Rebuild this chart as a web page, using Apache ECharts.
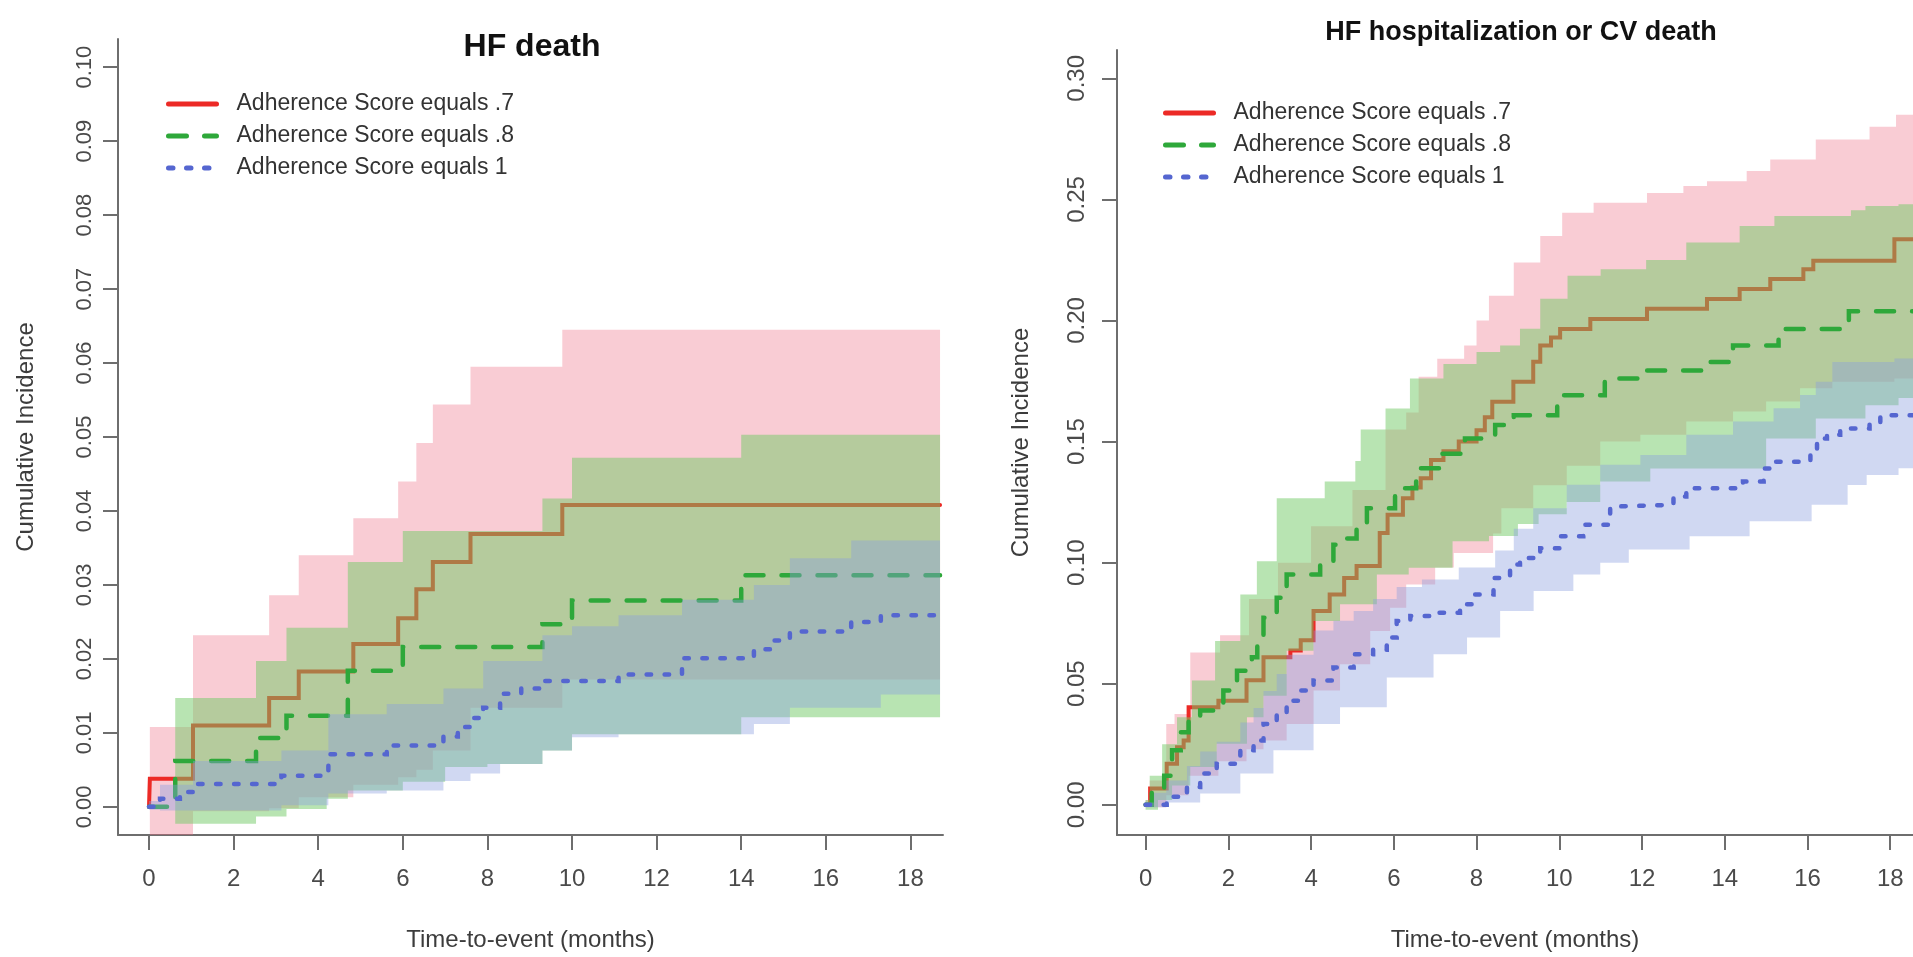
<!DOCTYPE html>
<html>
<head>
<meta charset="utf-8">
<title>Cumulative incidence by adherence score</title>
<script src="https://cdn.jsdelivr.net/npm/echarts@6/dist/echarts.min.js"></script>
<style>
  html, body { margin: 0; padding: 0; background: #ffffff; }
  #chart { width: 1913px; height: 957px; }
</style>
</head>
<body>
<div id="chart"></div>
<script>
// ---------------- DATA ----------------
const seriesNames = ['Adherence Score equals .7', 'Adherence Score equals .8', 'Adherence Score equals 1'];
const panelTitles = ['HF death', 'HF hospitalization or CV death'];
const xTicks = [0, 2, 4, 6, 8, 10, 12, 14, 16, 18];
const yTicksLeft = [0, 0.01, 0.02, 0.03, 0.04, 0.05, 0.06, 0.07, 0.08, 0.09, 0.10];
const yTicksRight = [0, 0.05, 0.10, 0.15, 0.20, 0.25, 0.30];
const endLeft = 18.7;
const endRight = 18.55;

// Left panel: HF death — step curves [month, cumulative incidence]
const hd07 = [[0,0],[0.02,0.0038],[1.04,0.011],[2.84,0.0147],[3.54,0.0183],[4.83,0.022],[5.89,0.0255],[6.32,0.0294],[6.71,0.0331],[7.6,0.0369],[9.77,0.0408]];
const hd07Up = [[0.02,0.0108],[1.04,0.0232],[2.84,0.0286],[3.54,0.034],[4.83,0.039],[5.89,0.044],[6.32,0.0492],[6.71,0.0544],[7.6,0.0595],[9.77,0.0645]];
const hd07Lo = [[0.02,-0.0038],[1.04,-0.0006],[2.84,-0.0002],[3.54,0.0013],[4.83,0.003],[5.89,0.004],[6.32,0.005],[6.71,0.0076],[7.6,0.0134],[9.77,0.0172]];

const hd08 = [[0,0],[0.62,0.0062],[2.53,0.0093],[3.25,0.0123],[4.7,0.0184],[6.0,0.0216],[9.3,0.0247],[10.0,0.0279],[14.0,0.0313]];
const hd08Up = [[0.62,0.0147],[2.53,0.0197],[3.25,0.0242],[4.7,0.0331],[6.0,0.0373],[9.3,0.0417],[10.0,0.0472],[14.0,0.0503]];
const hd08Lo = [[0.62,-0.0023],[2.53,-0.0013],[3.25,-0.0003],[4.2,0.0011],[4.7,0.0022],[6.0,0.0034],[7.0,0.0054],[8.0,0.0058],[9.3,0.0076],[10.0,0.0098],[14.0,0.0121]];

const hd10 = [[0,0],[0.26,0.0011],[0.73,0.002],[1.04,0.0031],[3.13,0.0042],[4.24,0.0071],[5.62,0.0083],[6.96,0.0095],[7.3,0.0108],[7.6,0.012],[7.9,0.0134],[8.3,0.0153],[8.8,0.016],[9.3,0.017],[11.1,0.0179],[12.6,0.0201],[14.3,0.0213],[14.7,0.0225],[15.15,0.0237],[16.6,0.025],[17.3,0.0259]];
const hd10Up = [[0,0.0008],[0.26,0.003],[1.04,0.0062],[3.13,0.0076],[4.24,0.0125],[5.62,0.0139],[6.96,0.016],[7.9,0.0197],[9.3,0.0232],[10.0,0.0244],[11.1,0.0259],[12.6,0.028],[14.3,0.03],[15.15,0.0336],[16.6,0.036]];
const hd10Lo = [[0,-0.0004],[0.26,-0.0005],[3.13,0.0002],[4.24,0.0018],[5.62,0.0022],[6.96,0.0035],[7.6,0.0045],[8.3,0.0058],[9.3,0.0076],[10.0,0.0094],[11.1,0.0098],[14.3,0.0112],[15.15,0.0134],[17.3,0.0152]];

// Right panel: HF hospitalization or CV death
const hc07 = [[0,0],[0.11,0.0067],[0.51,0.017],[0.76,0.0238],[0.92,0.0266],[1.04,0.0403],[1.76,0.043],[2.44,0.0514],[2.85,0.0609],[3.5,0.0637],[3.75,0.068],[4.06,0.08],[4.45,0.0869],[4.8,0.0937],[5.1,0.0986],[5.66,0.1122],[5.85,0.1198],[6.22,0.1266],[6.45,0.131],[6.65,0.1349],[6.9,0.1424],[7.2,0.146],[7.57,0.15],[8.0,0.1547],[8.2,0.16],[8.38,0.1664],[8.89,0.1747],[9.37,0.183],[9.54,0.1897],[9.8,0.193],[10.02,0.1965],[10.75,0.2006],[12.12,0.2048],[13.57,0.2089],[14.36,0.213],[15.1,0.2171],[15.9,0.2212],[16.14,0.2247],[18.1,0.2336]];
const hc07Up = [[0,0.002],[0.1,0.01],[0.5,0.0334],[0.7,0.0375],[1.08,0.0629],[1.8,0.07],[2.5,0.085],[3.2,0.1],[4.0,0.115],[5.0,0.13],[5.8,0.155],[6.3,0.162],[6.6,0.1768],[7.05,0.1842],[7.7,0.1897],[8.0,0.2],[8.3,0.2102],[8.9,0.224],[9.54,0.2349],[10.07,0.2445],[10.83,0.2486],[12.12,0.2527],[13.0,0.2555],[13.57,0.2575],[14.53,0.2617],[15.1,0.2665],[16.2,0.2747],[17.5,0.28],[18.14,0.285]];
const hc07Lo = [[0,-0.001],[0.5,0.004],[1.04,0.012],[1.76,0.018],[2.44,0.023],[2.85,0.0266],[3.41,0.0334],[4.06,0.0472],[4.7,0.0581],[5.43,0.0718],[5.91,0.0814],[6.3,0.091],[7.0,0.098],[7.45,0.104],[8.4,0.112],[8.6,0.1225],[9.37,0.132],[10.18,0.14],[10.99,0.15],[11.96,0.1528],[13.07,0.1583],[14.2,0.1624],[15.0,0.1665],[15.82,0.172],[16.6,0.1747],[18.1,0.176]];

const hc08 = [[0,0],[0.15,0.005],[0.45,0.012],[0.64,0.0225],[0.85,0.03],[1.04,0.0348],[1.32,0.039],[1.88,0.0472],[2.21,0.0554],[2.57,0.0609],[2.7,0.068],[2.85,0.0773],[3.17,0.0855],[3.41,0.0951],[4.22,0.1006],[4.54,0.1074],[4.8,0.11],[5.1,0.1157],[5.35,0.1225],[6.03,0.1307],[6.54,0.139],[7.1,0.145],[7.72,0.1513],[8.45,0.1568],[8.9,0.1609],[9.95,0.1691],[11.1,0.176],[12.1,0.1794],[13.6,0.1829],[14.2,0.1897],[15.3,0.1965],[17.0,0.2038]];
const hc08Up = [[0,0.002],[0.1,0.012],[0.4,0.025],[0.76,0.0362],[1.12,0.0513],[1.68,0.0677],[2.29,0.0869],[2.69,0.1006],[3.17,0.1266],[4.33,0.1335],[5.07,0.142],[5.2,0.155],[5.8,0.1637],[6.39,0.176],[7.2,0.182],[8.0,0.187],[8.57,0.1897],[9.05,0.1966],[9.54,0.209],[10.2,0.2185],[11.0,0.2212],[12.1,0.225],[13.07,0.2322],[14.36,0.239],[15.2,0.2432],[17.05,0.2455],[17.4,0.2473],[18.2,0.248]];
const hc08Lo = [[0,-0.002],[0.3,0.002],[0.64,0.008],[1.08,0.0156],[1.72,0.0252],[2.45,0.0362],[2.85,0.045],[3.41,0.0636],[4.06,0.0759],[4.7,0.0828],[5.59,0.0951],[6.36,0.0979],[7.42,0.1088],[8.3,0.111],[9.0,0.116],[9.5,0.12],[10.18,0.125],[10.99,0.1335],[12.2,0.1389],[15.0,0.1513],[16.2,0.1595],[17.4,0.165],[18.2,0.168]];

const hc10 = [[0,0],[0.51,0.0033],[1.0,0.0074],[1.32,0.0129],[1.72,0.017],[2.29,0.0225],[2.61,0.0266],[2.85,0.0334],[3.17,0.0375],[3.41,0.043],[3.74,0.0472],[4.06,0.0513],[4.54,0.0567],[5.03,0.0622],[5.5,0.064],[5.83,0.0691],[6.07,0.0759],[6.4,0.078],[6.96,0.0793],[7.6,0.0828],[7.93,0.0869],[8.41,0.0937],[8.81,0.0992],[9.05,0.1019],[9.54,0.106],[10.02,0.1109],[10.58,0.1157],[11.23,0.1232],[11.4,0.1239],[12.76,0.1273],[13.07,0.1307],[14.44,0.1335],[14.94,0.1389],[15.1,0.1417],[16.07,0.1458],[16.23,0.1513],[16.47,0.1528],[16.79,0.1554],[17.5,0.1575],[17.76,0.1609]];
const hc10Up = [[0,0.001],[0.2,0.005],[0.5,0.01],[1.0,0.016],[1.32,0.022],[1.72,0.026],[2.29,0.034],[2.61,0.04],[2.85,0.047],[3.17,0.054],[3.41,0.062],[4.06,0.072],[4.54,0.076],[5.03,0.08],[5.5,0.085],[6.07,0.09],[6.68,0.093],[7.57,0.098],[8.45,0.105],[8.9,0.114],[9.37,0.1225],[10.18,0.1322],[10.99,0.1404],[11.96,0.1445],[13.07,0.1528],[14.2,0.1583],[15.18,0.1638],[15.82,0.1692],[16.2,0.1747],[16.6,0.1829],[18.1,0.1843]];
const hc10Lo = [[0,-0.001],[0.5,0.001],[1.32,0.0047],[2.29,0.0129],[3.09,0.0225],[4.06,0.0334],[4.7,0.0403],[5.83,0.0526],[6.96,0.0622],[7.77,0.0691],[8.57,0.08],[9.38,0.0883],[10.34,0.0951],[10.99,0.1],[11.68,0.1054],[13.15,0.1109],[14.6,0.1171],[16.1,0.1239],[16.97,0.1321],[17.43,0.1362],[18.2,0.139]];

// ---------------- STYLE ----------------
const FONT = "'Liberation Sans', Arial, Helvetica, sans-serif";
const lineColors = ['#ec2a26', '#2ea83a', '#5566d0'];
const bandColors = ['rgba(238,109,132,0.35)', 'rgba(113,201,101,0.5)', 'rgba(137,157,222,0.4)'];
const lineTypes = ['solid', [18, 18], [4.5, 13.5]];
const lineWidths = [4, 4.5, 4.5];

function bandSeries(name, up, lo, tEnd, gridIdx, color, z) {
  return {
    type: 'custom',
    name: name + ' CI',
    xAxisIndex: gridIdx, yAxisIndex: gridIdx,
    clip: true, silent: true, z: z,
    data: [up[0]],
    renderItem: function (params, api) {
      if (params.dataIndex !== 0) return null;
      const pts = [];
      for (let i = 0; i < up.length; i++) {
        const tNext = i + 1 < up.length ? up[i + 1][0] : tEnd;
        pts.push(api.coord([up[i][0], up[i][1]]));
        pts.push(api.coord([tNext, up[i][1]]));
      }
      for (let i = lo.length - 1; i >= 0; i--) {
        const tNext = i + 1 < lo.length ? lo[i + 1][0] : tEnd;
        pts.push(api.coord([tNext, lo[i][1]]));
        pts.push(api.coord([lo[i][0], lo[i][1]]));
      }
      return { type: 'polygon', shape: { points: pts }, style: { fill: color, stroke: null } };
    }
  };
}

function stepSeries(name, pts, tEnd, gridIdx, k, z) {
  const data = pts.concat([[tEnd, pts[pts.length - 1][1]]]);
  return {
    type: 'line', name: name, step: 'end',
    xAxisIndex: gridIdx, yAxisIndex: gridIdx,
    data: data, symbol: 'none', showSymbol: false, z: z,
    lineStyle: { color: lineColors[k], width: lineWidths[k], type: lineTypes[k], cap: 'round', join: 'miter' },
    itemStyle: { color: lineColors[k] },
    emphasis: { disabled: true }
  };
}

const axisLineStyle = { color: '#6e6e6e', width: 2 };

function xAxisCfg(gridIdx, min, max, labelSize) {
  return {
    type: 'value', gridIndex: gridIdx, min: min, max: max,
    splitLine: { show: false },
    axisLine: { show: true, onZero: false, lineStyle: axisLineStyle },
    axisTick: { show: true, inside: false, length: 15, customValues: xTicks, lineStyle: axisLineStyle },
    axisLabel: { customValues: xTicks, fontSize: labelSize, color: '#4a4a4a', fontFamily: FONT, margin: 32 },
    name: 'Time-to-event (months)', nameLocation: 'middle', nameGap: 93,
    nameTextStyle: { fontSize: 24, color: '#3c3c3c', fontFamily: FONT }
  };
}

function yAxisCfg(gridIdx, min, max, ticks, labelSize, margin, nameGap) {
  return {
    type: 'value', gridIndex: gridIdx, min: min, max: max,
    splitLine: { show: false },
    axisLine: { show: true, onZero: false, lineStyle: axisLineStyle },
    axisTick: { show: true, inside: false, length: 15, customValues: ticks, lineStyle: axisLineStyle },
    axisLabel: { customValues: ticks, rotate: 90, fontSize: labelSize, color: '#4a4a4a', fontFamily: FONT, margin: margin,
                 formatter: function (v) { return v.toFixed(2); } },
    name: 'Cumulative Incidence', nameLocation: 'middle', nameGap: nameGap, nameRotate: 90,
    nameTextStyle: { fontSize: 24, color: '#3c3c3c', fontFamily: FONT }
  };
}

function legendCfg(left, top) {
  return {
    orient: 'vertical', left: left, top: top, padding: 0,
    itemWidth: 48, itemHeight: 14, itemGap: 6,
    selectedMode: false,
    data: seriesNames,
    itemStyle: { opacity: 0 },
    lineStyle: { width: 5 },
    textStyle: { fontSize: 23, color: '#333333', fontFamily: FONT, lineHeight: 26, padding: [0, 0, 0, 15] }
  };
}

const series = [
  bandSeries(seriesNames[0], hd07Up, hd07Lo, endLeft, 0, bandColors[0], 1),
  stepSeries(seriesNames[0], hd07, endLeft, 0, 0, 2),
  bandSeries(seriesNames[1], hd08Up, hd08Lo, endLeft, 0, bandColors[1], 3),
  stepSeries(seriesNames[1], hd08, endLeft, 0, 1, 4),
  bandSeries(seriesNames[2], hd10Up, hd10Lo, endLeft, 0, bandColors[2], 5),
  stepSeries(seriesNames[2], hd10, endLeft, 0, 2, 6),

  bandSeries(seriesNames[0], hc07Up, hc07Lo, endRight, 1, bandColors[0], 1),
  stepSeries(seriesNames[0], hc07, endRight, 1, 0, 2),
  bandSeries(seriesNames[1], hc08Up, hc08Lo, endRight, 1, bandColors[1], 3),
  stepSeries(seriesNames[1], hc08, endRight, 1, 1, 4),
  bandSeries(seriesNames[2], hc10Up, hc10Lo, endRight, 1, bandColors[2], 5),
  stepSeries(seriesNames[2], hc10, endRight, 1, 2, 6)
];

const option = {
  backgroundColor: '#ffffff',
  animation: false,
  textStyle: { fontFamily: FONT },
  title: [
    { text: panelTitles[0], left: 527, top: 26, textAlign: 'center',
      textStyle: { fontSize: 32, fontWeight: 'bold', color: '#111111', fontFamily: FONT } },
    { text: panelTitles[1], left: 1516, top: 14, textAlign: 'center',
      textStyle: { fontSize: 27, fontWeight: 'bold', color: '#111111', fontFamily: FONT } }
  ],
  legend: [legendCfg(166, 91), legendCfg(1163, 100)],
  grid: [
    { left: 118, right: 970, top: 39, bottom: 115, containLabel: false },
    { left: 1117, right: 0, top: 50, bottom: 119, containLabel: false }
  ],
  xAxis: [ xAxisCfg(0, -0.733, 18.77, 24), xAxisCfg(1, -0.691, 18.55, 24) ],
  yAxis: [ yAxisCfg(0, -0.00381, 0.10381, yTicksLeft, 22, 22, 80),
           yAxisCfg(1, -0.01246, 0.3117, yTicksRight, 24, 28, 84) ],
  series: series
};

const chart = echarts.init(document.getElementById('chart'), null, { renderer: 'canvas' });
chart.setOption(option);
</script>
</body>
</html>
